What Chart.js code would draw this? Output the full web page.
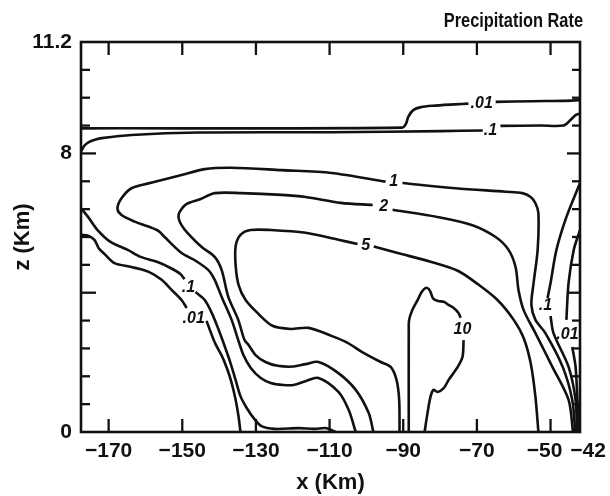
<!DOCTYPE html>
<html>
<head>
<meta charset="utf-8">
<script src="https://cdn.jsdelivr.net/npm/chart.js@4.4.1/dist/chart.umd.min.js"></script>
<style>
  html, body { margin: 0; padding: 0; background: #fff; }
</style>
</head>
<body>
<canvas id="rateChart" width="610" height="496"></canvas>
<script>
// Precipitation rate contours: x = horizontal distance (km), z = height (km).
// Each contour is a list of [x, z] points; a null leaves the gap where its label sits.
const rate001Top = [
  [-177.5, 8.72], [-90.3, 8.74], [-89.3, 8.84], [-88.6, 9.06], [-87.2, 9.25], [-85.2, 9.33],
  [-82.1, 9.37], [-76.0, 9.41], [-72.3, 9.43],
  null,
  [-64.9, 9.48], [-55.0, 9.50], [-46.5, 9.51], [-42.0, 9.53]
];
const rate01Top = [
  [-177.4, 8.07], [-176.6, 8.22], [-175.5, 8.32], [-173.5, 8.40], [-171.9, 8.44], [-163.8, 8.53],
  [-145.6, 8.60], [-109.5, 8.61], [-79.8, 8.64], [-68.4, 8.66],
  null,
  [-63.6, 8.79], [-52.7, 8.80], [-46.5, 8.80], [-44.6, 8.96], [-43.2, 9.10], [-42.0, 9.14]
];
const rate01Left = [
  [-177.5, 6.43], [-175.4, 6.15], [-173.0, 5.80], [-169.5, 5.46], [-164.8, 5.23], [-161.3, 5.03],
  [-156.7, 4.88], [-153.2, 4.71], [-150.5, 4.54], [-149.4, 4.39],
  null,
  [-146.4, 4.02], [-143.9, 3.79], [-142.0, 3.42], [-140.1, 2.93], [-138.5, 2.47], [-136.9, 1.98],
  [-135.5, 1.49], [-134.2, 1.03], [-132.5, 0.69], [-130.4, 0.37], [-128.5, 0.17], [-124.9, 0.09],
  [-118.4, 0.11], [-114.1, 0.09], [-110.8, 0.11], [-108.4, 0]
];
const rate001Left = [
  [-177.5, 5.66], [-175.4, 5.63], [-173.8, 5.51], [-172.7, 5.28], [-171.1, 5.11], [-168.4, 4.85],
  [-163.8, 4.74], [-159.1, 4.60], [-155.6, 4.37], [-152.9, 4.08], [-150.2, 3.79], [-148.8, 3.56],
  null,
  [-143.4, 3.19], [-142.3, 2.87], [-141.0, 2.53], [-139.1, 2.15], [-137.7, 1.78], [-136.6, 1.41],
  [-135.5, 0.92], [-134.7, 0.43], [-134.2, 0]
];
const rate1 = [
  [-102.9, 0], [-104.8, 0.63], [-107.6, 1.15], [-113.0, 1.55], [-116.5, 1.46], [-119.8, 1.35],
  [-122.5, 1.35], [-126.0, 1.41], [-128.7, 1.55], [-131.4, 1.84], [-133.4, 2.21], [-134.8, 2.64],
  [-136.6, 3.22], [-139.3, 3.88], [-141.2, 4.37], [-142.9, 4.65], [-146.7, 4.94], [-150.2, 5.14],
  [-154.8, 5.60], [-156.4, 5.77], [-159.2, 5.90], [-162.9, 6.04], [-166.5, 6.23], [-167.6, 6.42],
  [-166.5, 6.71], [-163.8, 7.00], [-159.2, 7.14], [-150.2, 7.38], [-143.9, 7.55], [-136.6, 7.59],
  [-123.0, 7.52], [-109.5, 7.44], [-94.8, 7.19],
  null,
  [-90.2, 7.15], [-75.8, 7.00], [-62.2, 6.90], [-57.7, 6.86], [-55.4, 6.75], [-54.1, 6.57],
  [-53.3, 6.29], [-53.5, 5.23], [-54.6, 4.28], [-55.2, 3.65], [-54.1, 3.22], [-51.4, 2.84],
  [-46.7, 1.87], [-44.1, 0.92], [-43.3, 0]
];
const rate2 = [
  [-98.1, 0], [-99.4, 0.55], [-102.9, 1.21], [-107.6, 1.69], [-113.0, 2.01], [-116.5, 1.95],
  [-119.8, 1.88], [-124.1, 1.90], [-127.4, 2.01], [-130.1, 2.21], [-132.0, 2.50], [-133.1, 2.64],
  [-134.8, 3.22], [-137.5, 3.88], [-139.3, 4.65], [-141.2, 5.03], [-144.8, 5.32], [-148.6, 5.72],
  [-150.2, 5.94], [-151.0, 6.15], [-150.7, 6.32], [-148.8, 6.55], [-145.0, 6.69], [-141.2, 6.86],
  [-133.9, 6.86], [-123.0, 6.81], [-116.5, 6.75], [-107.0, 6.58], [-98.3, 6.52],
  null,
  [-92.9, 6.38], [-80.4, 6.17], [-71.2, 5.94], [-64.9, 5.60], [-61.4, 5.23], [-59.5, 4.74],
  [-58.7, 4.08], [-57.3, 3.50], [-54.1, 2.84], [-49.5, 1.87], [-45.1, 0.92], [-43.9, 0]
];
const rate5 = [
  [-91.0, 0], [-91.1, 0.92], [-91.8, 1.49], [-93.4, 1.87], [-96.1, 2.01], [-100.8, 2.27],
  [-105.1, 2.56], [-109.5, 2.76], [-115.7, 2.99], [-120.6, 2.96], [-125.5, 3.05], [-129.3, 3.39],
  [-132.8, 3.79], [-134.7, 4.22], [-135.5, 4.77], [-135.5, 5.34], [-134.2, 5.66], [-131.5, 5.80],
  [-126.0, 5.80], [-116.5, 5.72], [-107.6, 5.52], [-102.4, 5.40],
  null,
  [-98.0, 5.33], [-91.5, 5.14], [-82.6, 4.89], [-75.2, 4.63], [-69.8, 4.25], [-64.4, 3.79],
  [-60.0, 3.22], [-57.3, 2.70], [-55.4, 1.98], [-54.1, 1.01], [-53.3, 0]
];
const rate10 = [
  [-88.5, 0], [-88.5, 2.93], [-88.4, 3.22], [-87.5, 3.51], [-86.1, 3.79], [-85.0, 4.02],
  [-83.9, 4.14], [-83.1, 4.11], [-82.6, 4.02], [-81.8, 3.82], [-80.4, 3.76], [-79.0, 3.74],
  [-77.7, 3.65], [-76.3, 3.56], [-75.0, 3.42], [-74.4, 3.28],
  null,
  [-73.6, 2.64], [-73.9, 2.16], [-75.2, 1.87], [-77.7, 1.49], [-79.0, 1.26], [-80.7, 1.15],
  [-81.8, 1.21], [-82.6, 1.01], [-83.4, 0.55], [-84.2, 0]
];
const rate01Right = [
  [-42.0, 7.15], [-45.7, 6.17], [-48.4, 5.23], [-50.0, 4.28], [-50.8, 3.85],
  null,
  [-50.0, 3.33], [-49.2, 2.84], [-45.1, 1.87], [-43.2, 0.92], [-42.8, 0]
];
const rate001Right = [
  [-42.0, 5.80], [-43.7, 5.23], [-45.1, 4.28], [-45.7, 3.22],
  null,
  [-44.1, 2.44], [-43.2, 1.87], [-42.7, 0.92], [-42.3, 0]
];

// contour value labels: [text, x, z]
const contourLabels = [
  ['.01', -68.7, 9.43], ['.1', -66.3, 8.66],
  ['1', -92.6, 7.18], ['2', -95.3, 6.46], ['5', -100.2, 5.34], ['10', -73.9, 2.93],
  ['.1', -148.3, 4.16], ['.01', -146.9, 3.27],
  ['.1', -51.4, 3.62], ['.01', -45.4, 2.79]
];

const xTicks = [-170, -150, -130, -110, -90, -70, -50, -42];
const xTickLabels = ['−170', '−150', '−130', '−110', '−90', '−70', '−50', '−42'];
const yLabelled = [0, 4, 8, 11.2];

const INK = '#111';
const FONT = "'Liberation Sans', Arial, sans-serif";

// minor ticks on the height axis every 0.8 km
const yTickValues = [];
for (let i = 0; i <= 14; i++) yTickValues.push(+(i * 0.8).toFixed(1));

function toSegments(points) {
  const out = [];
  let cur = [];
  points.forEach(p => {
    if (p === null) {
      if (cur.length) out.push(cur);
      cur = [];
    } else {
      cur.push({ x: p[0], y: p[1] });
    }
  });
  if (cur.length) out.push(cur);
  return out;
}

const contours = [rate001Top, rate01Top, rate01Left, rate001Left, rate1, rate2, rate5, rate10, rate01Right, rate001Right];
const datasets = [];
contours.forEach(c => {
  toSegments(c).forEach(seg => {
    datasets.push({
      data: seg,
      showLine: true,
      borderColor: INK,
      borderWidth: 2.6,
      pointRadius: 0,
      tension: 0.3,
      fill: false
    });
  });
});

// frame, inward tick marks, x tick labels, contour labels and the title
const decorations = {
  id: 'decorations',
  afterDraw(chart) {
    const { ctx, chartArea: a, scales: { x, y } } = chart;
    ctx.save();
    ctx.strokeStyle = INK;
    ctx.fillStyle = INK;
    ctx.lineWidth = 2.6;
    ctx.strokeRect(a.left, a.top, a.right - a.left, a.bottom - a.top);

    const seg = (x1, y1, x2, y2) => {
      ctx.beginPath();
      ctx.moveTo(x1, y1);
      ctx.lineTo(x2, y2);
      ctx.stroke();
    };
    ctx.lineWidth = 2.3;
    xTicks.forEach(v => {
      if (v === -42) return;
      const px = x.getPixelForValue(v);
      seg(px, a.bottom, px, a.bottom - 13);
      seg(px, a.top, px, a.top + 13);
    });
    yTickValues.forEach(v => {
      if (v === 0 || v === 11.2) return;
      const major = yLabelled.includes(v);
      const py = y.getPixelForValue(v);
      seg(a.left, py, a.left + (major ? 15 : 9), py);
      seg(a.right, py, a.right - (major ? 13 : 8), py);
    });

    ctx.font = 'bold 21px ' + FONT;
    ctx.textAlign = 'center';
    ctx.textBaseline = 'alphabetic';
    xTicks.forEach((v, i) => {
      let px = x.getPixelForValue(v);
      if (v === -50) px -= 6;
      if (v === -42) px += 8;
      ctx.fillText(xTickLabels[i], px, a.bottom + 25);
    });

    ctx.font = 'italic bold 16px ' + FONT;
    ctx.textBaseline = 'middle';
    contourLabels.forEach(([t, vx, vz]) => {
      ctx.fillText(t, x.getPixelForValue(vx), y.getPixelForValue(vz));
    });

    // narrow lettering for the heading
    ctx.font = 'bold 21px ' + FONT;
    ctx.textAlign = 'right';
    ctx.textBaseline = 'alphabetic';
    ctx.translate(583, 27);
    ctx.scale(0.78, 1);
    ctx.fillText('Precipitation Rate', 0, 0);
    ctx.restore();
  }
};

new Chart(document.getElementById('rateChart'), {
  type: 'scatter',
  data: { datasets },
  options: {
    responsive: false,
    animation: false,
    devicePixelRatio: 1,
    layout: { padding: { top: 42, right: 30, left: 0, bottom: 0 } },
    plugins: { legend: { display: false }, tooltip: { enabled: false } },
    scales: {
      x: {
        type: 'linear',
        min: -177.5,
        max: -42,
        grid: { display: false },
        border: { display: false },
        ticks: { display: false },
        afterBuildTicks: s => { s.ticks = xTicks.map(v => ({ value: v })); },
        afterFit: s => { s.height = 64; },
        title: { display: true, text: 'x (Km)', color: INK, font: { family: FONT, size: 22, weight: 'bold' }, padding: 0 }
      },
      y: {
        type: 'linear',
        min: 0,
        max: 11.2,
        grid: { display: false },
        border: { display: false },
        afterBuildTicks: s => { s.ticks = yTickValues.map(v => ({ value: v })); },
        ticks: {
          color: INK,
          padding: 1,
          font: { family: FONT, size: 21, weight: 'bold' },
          callback: v => {
            const r = +(+v).toFixed(1);
            return yLabelled.includes(r) ? String(r) : '';
          }
        },
        afterFit: s => { s.width = 81; },
        title: { display: true, text: 'z (Km)', color: INK, font: { family: FONT, size: 22, weight: 'bold' }, padding: { top: 10 } }
      }
    }
  },
  plugins: [decorations]
});
</script>
</body>
</html>
